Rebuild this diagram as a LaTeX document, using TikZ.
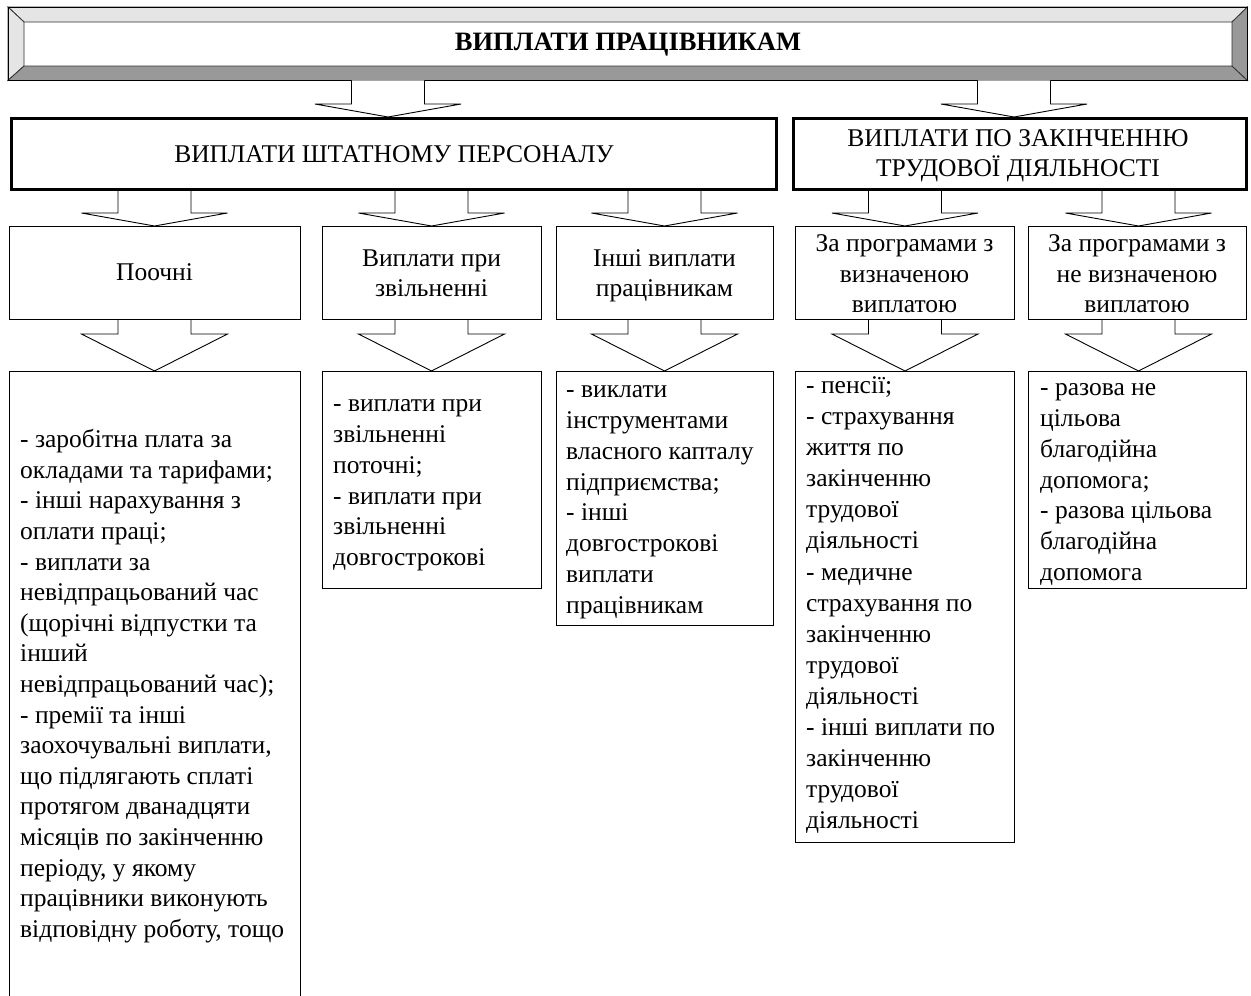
\documentclass[tikz,border=0pt]{standalone}
\usepackage{fontspec}
\setmainfont{Liberation Serif}
\usetikzlibrary{calc}
\newcommand\barr[4]{%
  \coordinate (bx) at (#3,#4);
  \draw[blockarrow] ($(#1.south -| bx)+(-36.5,0)$) -- ($(bx)+(-36.5,0)$) -- ($(bx)+(-73,0)$)
    -- (#2.north -| bx) -- ($(bx)+(73,0)$) -- ($(bx)+(36.5,0)$) -- ($(#1.south -| bx)+(36.5,0)$);
}
\begin{document}
\begin{tikzpicture}[x=1pt,y=-1pt,
  box/.style={draw, line width=1pt, inner sep=0pt, anchor=north west},
  thickbox/.style={draw, line width=3pt, inner sep=0pt, anchor=north west},
  blockarrow/.style={draw, line width=0.9pt, fill=white, line join=miter},
  txt/.style={anchor=north west, inner sep=0pt, align=left, font=\fontsize{25.5}{30.8}\selectfont},
  ctxt/.style={anchor=center, inner sep=0pt, align=center, font=\fontsize{25.5}{30.4}\selectfont},
  bevlight/.style={fill=black!10, draw=black!80, line width=0.8pt},
  bevdark/.style={fill=black!40, draw=black!80, line width=0.8pt}]
\useasboundingbox (0,0) rectangle (1251,996);
\fill[white] (0,0) rectangle (1251,996);

% title bevelled box
\node[inner sep=0pt, minimum width=1239pt, minimum height=73pt, anchor=north west] (top) at (8,7) {};
\coordinate (i1) at (24,22); \coordinate (i2) at (1232,22);
\coordinate (i3) at (1232,66); \coordinate (i4) at (24,66);
\filldraw[bevlight] (top.north west) -- (top.north east) -- (i2) -- (i1) -- cycle;
\filldraw[bevlight] (top.north west) -- (i1) -- (i4) -- (top.south west) -- cycle;
\filldraw[bevdark] (top.south west) -- (i4) -- (i3) -- (top.south east) -- cycle;
\filldraw[bevdark] (top.north east) -- (top.south east) -- (i3) -- (i2) -- cycle;
\draw[line width=1pt] (top.north west) rectangle (top.south east);
\node[font=\fontsize{26.5}{30}\selectfont\bfseries, inner sep=0pt] (title) at (628,45) {ВИПЛАТИ ПРАЦІВНИКАМ};

% second level
\node[thickbox, minimum width=765pt, minimum height=71pt] (L2a) at (10,117) {};
\node[thickbox, minimum width=453pt, minimum height=71pt] (L2b) at (792,117) {};
\node[ctxt, font=\fontsize{25.5}{30}\selectfont] (L2at) at (L2a.center) {ВИПЛАТИ ШТАТНОМУ ПЕРСОНАЛУ};
\node[ctxt, font=\fontsize{25.5}{30}\selectfont] (L2bt) at (1018,155.5) {ВИПЛАТИ ПО ЗАКІНЧЕННЮ\\ТРУДОВОЇ ДІЯЛЬНОСТІ};

% third level
\node[box, minimum width=291pt, minimum height=93pt] (c1) at (9,226) {};
\node[box, minimum width=219pt, minimum height=93pt] (c2) at (322,226) {};
\node[box, minimum width=217pt, minimum height=93pt] (c3) at (556,226) {};
\node[box, minimum width=219pt, minimum height=93pt] (c4) at (795,226) {};
\node[box, minimum width=218pt, minimum height=93pt] (c5) at (1028,226) {};
\node[ctxt] (c1t) at (154.5,272) {Поочні};
\node[ctxt] (c2t) at (431.5,273) {Виплати при\\звільненні};
\node[ctxt] (c3t) at (664.5,275.5) {Інші виплати\\працівникам};
\node[ctxt] (c4t) at (904.5,274) {За програмами з\\визначеною\\виплатою};
\node[ctxt] (c5t) at (1137,274) {За програмами з\\не визначеною\\виплатою};

% bottom level
\node[inner sep=0pt, minimum width=291pt, minimum height=640pt, anchor=north west] (b1) at (9,371) {};
\draw[line width=1pt] (b1.south west) -- (b1.north west) -- (b1.north east) -- (b1.south east);
\node[box, minimum width=219pt, minimum height=217pt] (b2) at (322,371) {};
\node[box, minimum width=217pt, minimum height=254pt] (b3) at (556,371) {};
\node[box, minimum width=219pt, minimum height=471pt] (b4) at (795,371) {};
\node[box, minimum width=218pt, minimum height=217pt] (b5) at (1028,371) {};

\node[txt, font=\fontsize{25.5}{30.6}\selectfont] (b1t) at (20,426) {\strut- заробітна плата за\\окладами та тарифами;\\- інші нарахування з\\оплати праці;\\- виплати за\\невідпрацьований час\\(щорічні відпустки та\\інший\\невідпрацьований час);\\- премії та інші\\заохочувальні виплати,\\що підлягають сплаті\\протягом дванадцяти\\місяців по закінченню\\періоду, у якому\\працівники виконують\\відповідну роботу, тощо};
\node[txt] (b2t) at (333,390) {\strut- виплати при\\звільненні\\поточні;\\- виплати при\\звільненні\\довгострокові};
\node[txt] (b3t) at (566,376) {\strut- виклати\\інструментами\\власного капталу\\підприємства;\\- інші\\довгострокові\\виплати\\працівникам};
\node[txt, font=\fontsize{25.5}{31.1}\selectfont] (b4t) at (806,371.5) {\strut- пенсії;\\- страхування\\життя по\\закінченню\\трудової\\діяльності\\- медичне\\страхування по\\закінченню\\трудової\\діяльності\\- інші виплати по\\закінченню\\трудової\\діяльності};
\node[txt] (b5t) at (1040,374) {\strut- разова не\\цільова\\благодійна\\допомога;\\- разова цільова\\благодійна\\допомога};

% block arrows
\barr{top}{L2a}{388}{104}
\barr{top}{L2b}{1014}{104}
\barr{L2a}{c1}{154.5}{213}
\barr{L2a}{c2}{431.5}{213}
\barr{L2a}{c3}{664.5}{213}
\barr{L2b}{c4}{905}{213}
\barr{L2b}{c5}{1138.5}{213}
\barr{c1}{b1}{154.5}{334}
\barr{c2}{b2}{431.5}{334}
\barr{c3}{b3}{664.5}{334}
\barr{c4}{b4}{905}{334}
\barr{c5}{b5}{1138.5}{334}
\end{tikzpicture}
\end{document}
